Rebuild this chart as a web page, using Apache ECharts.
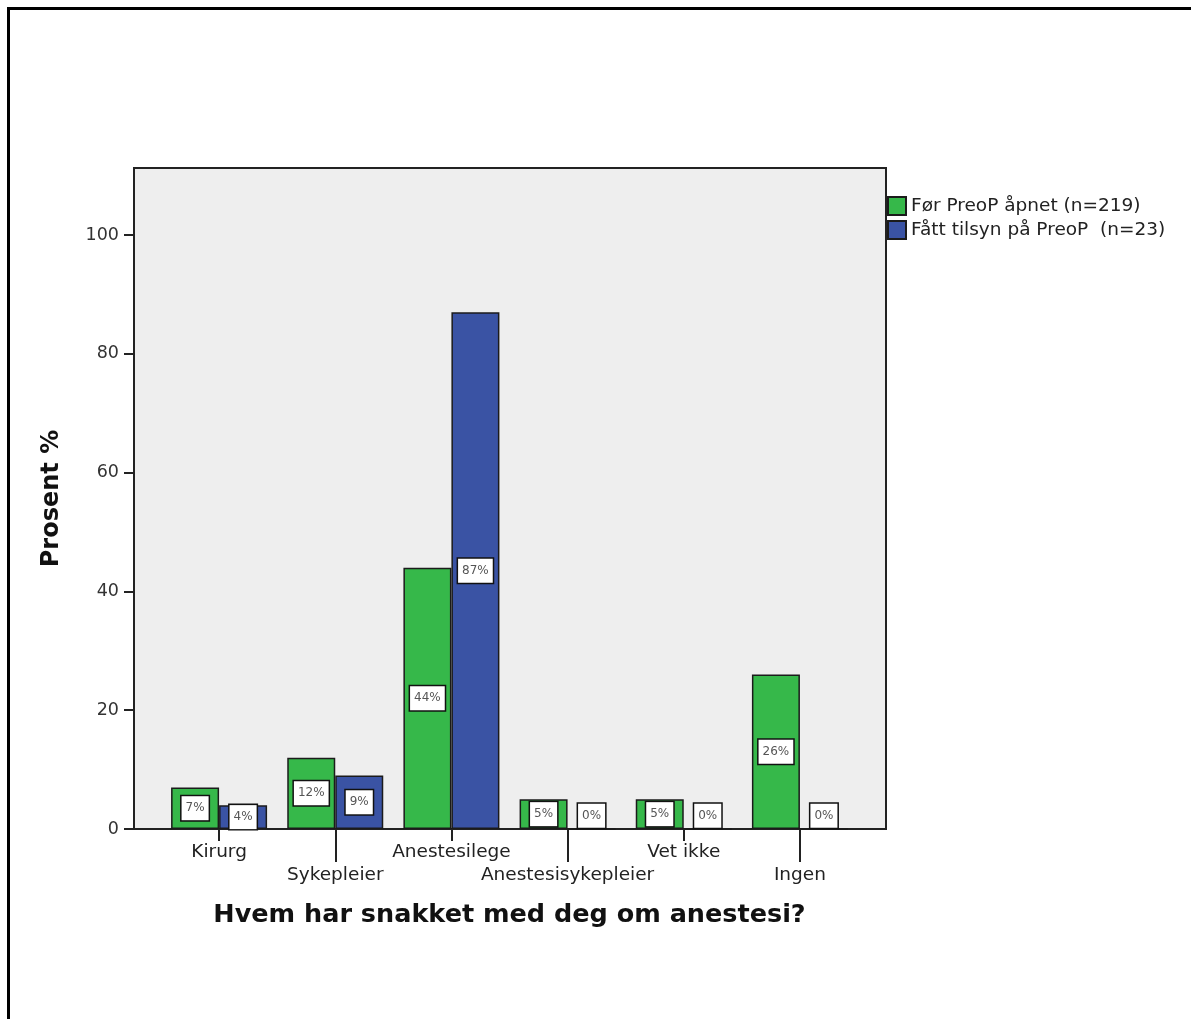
<!DOCTYPE html>
<html>
<head>
<meta charset="utf-8">
<title>Hvem har snakket med deg om anestesi?</title>
<script src="https://cdn.jsdelivr.net/npm/echarts@6/dist/echarts.min.js"></script>
<style>
  html, body { margin: 0; padding: 0; background: #fff; }
  #chart { width: 1191px; height: 1019px; }
</style>
</head>
<body>
<div id="chart"></div>
<script>
// Categories on the x axis
const categories = ['Kirurg', 'Sykepleier', 'Anestesilege', 'Anestesisykepleier', 'Vet ikke', 'Ingen'];

// Percent of respondents in each group
const beforePreop = [7, 12, 44, 5, 5, 26];
const withPreop = [4, 9, 87, 0, 0, 0];

const seriesNames = ['Før PreoP åpnet (n=219)', 'Fått tilsyn på PreoP  (n=23)'];
const yTicks = [0, 20, 40, 60, 80, 100];

const Y_MAX = 111.3;
const FONT = '"DejaVu Sans", "Noto Sans", sans-serif';

const labelBox = {
  show: true,
  formatter: '{c}%',
  fontFamily: FONT,
  fontSize: 12,
  color: '#555',
  backgroundColor: '#ffffff',
  borderColor: '#111',
  borderWidth: 1.5,
  padding: [6, 4, 5, 4],
  lineHeight: 13
};

// Zero-height bars keep their label sitting on the baseline
function toItems(values) {
  return values.map(v => ({
    value: v,
    label: v === 0
      ? Object.assign({}, labelBox, { position: 'insideBottom', distance: 2 })
      : Object.assign({}, labelBox, { position: 'inside' })
  }));
}

const chart = echarts.init(document.getElementById('chart'), null, { renderer: 'canvas' });

const even = i => i % 2 === 0;
const odd = i => i % 2 === 1;

const option = {
  backgroundColor: '#ffffff',
  animation: false,
  graphic: [
    { type: 'line', shape: { x1: 7, y1: 8.5, x2: 1191, y2: 8.5 }, style: { stroke: '#000', lineWidth: 3 } },
    { type: 'line', shape: { x1: 8.5, y1: 7, x2: 8.5, y2: 1019 }, style: { stroke: '#000', lineWidth: 3 } }
  ],
  legend: {
    orient: 'vertical',
    left: 887,
    top: 196,
    padding: 0,
    itemWidth: 18,
    itemHeight: 18,
    itemGap: 4,
    icon: 'rect',
    textStyle: { fontFamily: FONT, fontSize: 18.5, lineHeight: 18, color: '#222' },
    data: seriesNames
  },
  grid: [
    // plot frame with grey background
    { left: 134, top: 168, width: 752, height: 661, show: true, backgroundColor: '#eeeeee', borderColor: '#222', borderWidth: 2, containLabel: false },
    // inner area holding the category bands
    { left: 161, top: 168, width: 697, height: 661, show: false, containLabel: false }
  ],
  xAxis: [
    { gridIndex: 0, type: 'value', show: false, min: 0, max: 1 },
    {
      gridIndex: 1, type: 'category', data: categories, position: 'bottom',
      axisLine: { show: false },
      axisTick: { show: true, alignWithLabel: true, interval: even, length: 12, lineStyle: { color: '#222', width: 2 } },
      axisLabel: { interval: even, margin: 14, fontFamily: FONT, fontSize: 18.5, color: '#222' },
      name: 'Hvem har snakket med deg om anestesi?',
      nameLocation: 'middle',
      nameGap: 73,
      nameTextStyle: { fontFamily: FONT, fontSize: 25.5, fontWeight: 'bold', color: '#111' }
    },
    {
      gridIndex: 1, type: 'category', data: categories, position: 'bottom',
      axisLine: { show: false },
      axisTick: { show: true, alignWithLabel: true, interval: odd, length: 33, lineStyle: { color: '#222', width: 2 } },
      axisLabel: { interval: odd, margin: 37, fontFamily: FONT, fontSize: 18.5, color: '#222' }
    }
  ],
  yAxis: [
    {
      gridIndex: 0, type: 'value', min: 0, max: Y_MAX, interval: 20,
      axisLine: { show: true, lineStyle: { color: '#222', width: 2 } },
      axisTick: { show: true, length: 10, lineStyle: { color: '#222', width: 2 },
        customValues: yTicks },
      axisLabel: { margin: 15, fontFamily: FONT, fontSize: 17.5, color: '#333',
        customValues: yTicks },
      splitLine: { show: false },
      name: 'Prosent %',
      nameLocation: 'middle',
      nameRotate: 90,
      nameGap: 70,
      nameTextStyle: { fontFamily: FONT, fontSize: 24, fontWeight: 'bold', color: '#111' }
    },
    { gridIndex: 1, type: 'value', min: 0, max: Y_MAX, show: false }
  ],
  series: [
    {
      name: seriesNames[0], type: 'bar', xAxisIndex: 1, yAxisIndex: 1,
      barWidth: 48, barGap: '0%',
      itemStyle: { color: '#36b84a', borderColor: '#1b1b1b', borderWidth: 1.5 },
      data: toItems(beforePreop)
    },
    {
      name: seriesNames[1], type: 'bar', xAxisIndex: 1, yAxisIndex: 1,
      barWidth: 48, barGap: '0%',
      itemStyle: { color: '#3a53a4', borderColor: '#1b1b1b', borderWidth: 1.5 },
      data: toItems(withPreop)
    }
  ]
};

chart.setOption(option);
</script>
</body>
</html>
